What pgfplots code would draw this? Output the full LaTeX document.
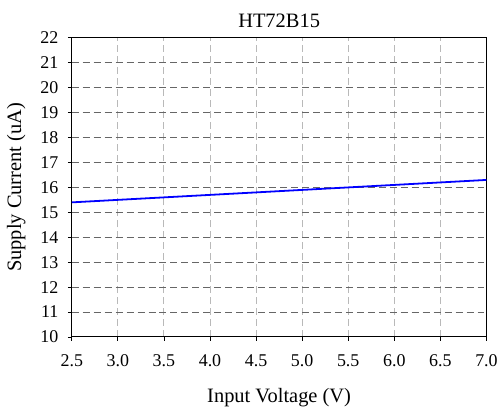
\documentclass[border=0pt]{standalone}
\usepackage{fontspec}
\setmainfont{Liberation Serif}
\usepackage{pgfplots}
\pgfplotsset{compat=1.18}
\begin{document}
\begin{tikzpicture}[x=1pt,y=1pt]
\begin{axis}[
  at={(0pt,0pt)}, anchor=south west,
  scale only axis,
  width=416pt, height=300pt,
  xmin=2.5, xmax=7.0, ymin=10, ymax=22,
  xtick={2.5,3.0,3.5,4.0,4.5,5.0,5.5,6.0,6.5,7.0},
  ytick={10,11,12,13,14,15,16,17,18,19,20,21,22},
  xticklabel={\pgfmathprintnumber[assume math mode=true,fixed,fixed zerofill,precision=1]{\tick}},
  yticklabel={\pgfmathprintnumber[assume math mode=true,fixed,precision=0]{\tick}},
  tick label style={font=\fontsize{18}{21}\selectfont},
  xticklabel style={yshift=-10pt},
  yticklabel style={xshift=-6pt},
  label style={font=\fontsize{20.5}{24}\selectfont},
  title style={font=\fontsize{20.5}{24}\selectfont, yshift=1pt},
  title={HT72B15},
  xlabel={Input Voltage (V)},
  ylabel={Supply Current (uA)},
  xlabel style={yshift=-15pt},
  ylabel style={yshift=8pt},
  grid=major,
  x grid style={gray!55, dash pattern=on 7pt off 4pt, line width=0.9pt},
  y grid style={gray!80!black, dash pattern=on 7pt off 4pt, line width=0.9pt},
  tick align=outside,
  major tick length=4pt,
  xtick pos=bottom, ytick pos=left,
  tick style={black, line width=0.8pt},
  axis line style={black, line width=1pt},
]
\addplot[blue, line width=1.8pt] coordinates {(2.5,15.4) (3.0,15.5) (4.0,15.7) (5.0,15.9) (6.0,16.1) (7.0,16.3)};
\end{axis}
\path[use as bounding box] (-72pt,-72pt) rectangle (429pt,338pt);
\end{tikzpicture}
\end{document}
